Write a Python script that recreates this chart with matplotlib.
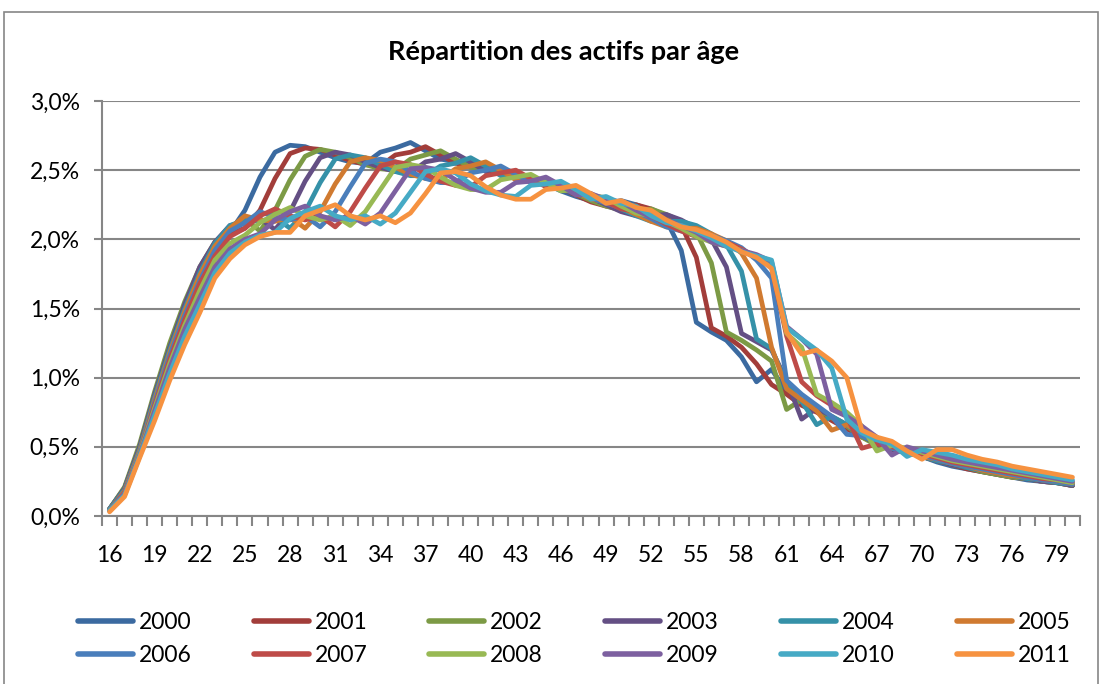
import matplotlib
matplotlib.use("Agg")
import matplotlib.pyplot as plt
from matplotlib.patches import Rectangle

ages = list(range(16, 81))
years = ["2000", "2001", "2002", "2003", "2004", "2005",
         "2006", "2007", "2008", "2009", "2010", "2011"]

v2000 = [0.05, 0.20, 0.50, 0.88, 1.22, 1.52, 1.77, 1.95, 2.05, 2.21,
         2.45, 2.63, 2.68, 2.67, 2.63, 2.59, 2.56, 2.55, 2.63, 2.66,
         2.70, 2.64, 2.58, 2.56, 2.55, 2.54, 2.50, 2.46, 2.43, 2.40,
         2.35, 2.31, 2.28, 2.26, 2.28, 2.25, 2.21, 2.14, 1.92, 1.40,
         1.33, 1.27, 1.15, 0.97, 1.06, 0.90, 0.82, 0.76, 0.70, 0.64,
         0.58, 0.53, 0.49, 0.46, 0.43, 0.39, 0.36, 0.34, 0.32, 0.30,
         0.28, 0.26, 0.25, 0.24, 0.22]
v2001 = [0.05, 0.20, 0.50, 0.88, 1.22, 1.52, 1.77, 1.96, 2.04, 2.08,
         2.21, 2.44, 2.62, 2.66, 2.65, 2.61, 2.57, 2.54, 2.53, 2.61,
         2.63, 2.67, 2.61, 2.55, 2.53, 2.52, 2.51, 2.47, 2.43, 2.40,
         2.37, 2.32, 2.27, 2.24, 2.22, 2.25, 2.22, 2.17, 2.10, 1.87,
         1.36, 1.30, 1.22, 1.10, 0.95, 0.88, 0.80, 0.75, 0.69, 0.63,
         0.57, 0.53, 0.49, 0.46, 0.43, 0.40, 0.37, 0.34, 0.32, 0.30,
         0.28, 0.27, 0.25, 0.24, 0.22]
v2002 = [0.05, 0.21, 0.52, 0.90, 1.25, 1.55, 1.80, 1.98, 2.08, 2.15,
         2.06, 2.21, 2.43, 2.60, 2.65, 2.63, 2.59, 2.54, 2.51, 2.50,
         2.58, 2.61, 2.64, 2.58, 2.52, 2.51, 2.49, 2.48, 2.43, 2.39,
         2.37, 2.33, 2.28, 2.24, 2.21, 2.20, 2.22, 2.18, 2.13, 2.05,
         1.83, 1.33, 1.27, 1.20, 1.12, 0.77, 0.84, 0.77, 0.71, 0.65,
         0.57, 0.51, 0.48, 0.46, 0.43, 0.40, 0.37, 0.35, 0.32, 0.30,
         0.28, 0.27, 0.25, 0.24, 0.22]
v2003 = [0.05, 0.20, 0.50, 0.88, 1.22, 1.53, 1.80, 1.98, 2.10, 2.12,
         2.15, 2.07, 2.20, 2.42, 2.59, 2.63, 2.61, 2.56, 2.52, 2.49,
         2.48, 2.56, 2.58, 2.62, 2.56, 2.49, 2.48, 2.46, 2.45, 2.40,
         2.36, 2.33, 2.30, 2.25, 2.20, 2.17, 2.17, 2.18, 2.14, 2.08,
         2.00, 1.80, 1.32, 1.26, 1.20, 0.98, 0.70, 0.78, 0.72, 0.66,
         0.58, 0.52, 0.48, 0.46, 0.43, 0.40, 0.37, 0.35, 0.33, 0.31,
         0.29, 0.27, 0.25, 0.24, 0.22]
v2004 = [0.05, 0.19, 0.48, 0.86, 1.20, 1.50, 1.76, 1.97, 2.10, 2.14,
         2.13, 2.16, 2.08, 2.20, 2.41, 2.58, 2.61, 2.59, 2.54, 2.49,
         2.46, 2.46, 2.53, 2.55, 2.59, 2.53, 2.46, 2.46, 2.43, 2.42,
         2.37, 2.33, 2.30, 2.27, 2.22, 2.17, 2.13, 2.13, 2.13, 2.10,
         2.04, 1.96, 1.77, 1.28, 1.21, 0.95, 0.83, 0.66, 0.72, 0.66,
         0.58, 0.53, 0.49, 0.46, 0.43, 0.40, 0.38, 0.35, 0.33, 0.31,
         0.29, 0.27, 0.26, 0.24, 0.23]
v2005 = [0.04, 0.18, 0.47, 0.84, 1.18, 1.48, 1.74, 1.95, 2.08, 2.17,
         2.14, 2.13, 2.16, 2.08, 2.20, 2.40, 2.56, 2.59, 2.57, 2.52,
         2.47, 2.44, 2.43, 2.51, 2.53, 2.56, 2.50, 2.43, 2.43, 2.40,
         2.39, 2.34, 2.29, 2.27, 2.23, 2.18, 2.13, 2.09, 2.08, 2.08,
         2.04, 1.99, 1.90, 1.72, 1.22, 0.92, 0.84, 0.76, 0.62, 0.66,
         0.59, 0.53, 0.49, 0.46, 0.43, 0.41, 0.38, 0.36, 0.33, 0.31,
         0.29, 0.28, 0.26, 0.25, 0.23]
v2006 = [0.04, 0.17, 0.46, 0.82, 1.16, 1.45, 1.70, 1.92, 2.06, 2.12,
         2.20, 2.16, 2.14, 2.17, 2.09, 2.20, 2.38, 2.55, 2.58, 2.56,
         2.49, 2.44, 2.41, 2.41, 2.48, 2.50, 2.53, 2.47, 2.41, 2.41,
         2.38, 2.36, 2.30, 2.26, 2.23, 2.20, 2.15, 2.09, 2.06, 2.04,
         2.03, 1.99, 1.94, 1.85, 1.72, 0.98, 0.88, 0.80, 0.72, 0.59,
         0.58, 0.53, 0.49, 0.46, 0.44, 0.41, 0.38, 0.36, 0.34, 0.32,
         0.30, 0.28, 0.26, 0.25, 0.23]
v2007 = [0.04, 0.17, 0.45, 0.80, 1.13, 1.42, 1.68, 1.88, 2.02, 2.08,
         2.17, 2.22, 2.17, 2.14, 2.17, 2.09, 2.20, 2.37, 2.53, 2.56,
         2.54, 2.47, 2.42, 2.39, 2.38, 2.46, 2.48, 2.50, 2.44, 2.38,
         2.38, 2.35, 2.33, 2.27, 2.22, 2.20, 2.17, 2.11, 2.06, 2.02,
         2.00, 1.98, 1.93, 1.87, 1.80, 1.30, 0.97, 0.87, 0.80, 0.72,
         0.49, 0.52, 0.50, 0.47, 0.45, 0.42, 0.39, 0.37, 0.35, 0.33,
         0.31, 0.29, 0.27, 0.26, 0.24]
v2008 = [0.04, 0.16, 0.45, 0.78, 1.10, 1.38, 1.63, 1.85, 1.97, 2.03,
         2.12, 2.18, 2.23, 2.17, 2.14, 2.17, 2.10, 2.20, 2.36, 2.52,
         2.54, 2.52, 2.45, 2.39, 2.36, 2.36, 2.43, 2.45, 2.47, 2.41,
         2.35, 2.36, 2.32, 2.30, 2.24, 2.19, 2.17, 2.13, 2.08, 2.02,
         1.98, 1.95, 1.92, 1.87, 1.82, 1.32, 1.22, 0.88, 0.82, 0.75,
         0.65, 0.47, 0.51, 0.49, 0.46, 0.43, 0.40, 0.38, 0.36, 0.34,
         0.32, 0.30, 0.28, 0.26, 0.24]
v2009 = [0.04, 0.16, 0.44, 0.76, 1.07, 1.35, 1.58, 1.80, 1.93, 2.00,
         2.04, 2.14, 2.20, 2.24, 2.17, 2.14, 2.17, 2.11, 2.19, 2.35,
         2.51, 2.52, 2.50, 2.43, 2.37, 2.34, 2.34, 2.41, 2.42, 2.45,
         2.39, 2.32, 2.33, 2.29, 2.27, 2.21, 2.16, 2.14, 2.10, 2.05,
         1.98, 1.95, 1.92, 1.89, 1.84, 1.37, 1.28, 1.17, 0.77, 0.72,
         0.65, 0.57, 0.44, 0.50, 0.47, 0.44, 0.41, 0.39, 0.37, 0.35,
         0.33, 0.31, 0.29, 0.27, 0.25]
v2010 = [0.04, 0.15, 0.43, 0.73, 1.03, 1.30, 1.53, 1.76, 1.90, 1.98,
         2.03, 2.05, 2.15, 2.20, 2.24, 2.17, 2.14, 2.17, 2.11, 2.19,
         2.34, 2.49, 2.51, 2.48, 2.40, 2.35, 2.32, 2.31, 2.39, 2.40,
         2.42, 2.36, 2.29, 2.31, 2.26, 2.24, 2.17, 2.12, 2.10, 2.06,
         2.01, 1.95, 1.91, 1.88, 1.85, 1.36, 1.28, 1.20, 1.07, 0.70,
         0.60, 0.55, 0.52, 0.43, 0.48, 0.46, 0.44, 0.41, 0.39, 0.37,
         0.34, 0.32, 0.30, 0.28, 0.26]
v2011 = [0.03, 0.14, 0.42, 0.69, 0.98, 1.24, 1.47, 1.72, 1.86, 1.96,
         2.02, 2.05, 2.05, 2.17, 2.21, 2.25, 2.17, 2.14, 2.17, 2.12,
         2.19, 2.33, 2.48, 2.49, 2.46, 2.38, 2.32, 2.29, 2.29, 2.36,
         2.37, 2.39, 2.33, 2.26, 2.28, 2.23, 2.21, 2.14, 2.09, 2.07,
         2.03, 1.98, 1.91, 1.87, 1.79, 1.33, 1.17, 1.20, 1.12, 1.00,
         0.62, 0.57, 0.54, 0.47, 0.41, 0.48, 0.48, 0.44, 0.41, 0.39,
         0.36, 0.34, 0.32, 0.30, 0.28]

series = [v2000, v2001, v2002, v2003, v2004, v2005,
          v2006, v2007, v2008, v2009, v2010, v2011]
colors = ["#3B6AA0", "#A23D3A", "#7C9A45", "#644F84", "#3591A8", "#D07A30",
          "#4A7EBB", "#BE4B48", "#98B954", "#7D60A0", "#46AAC5", "#F69240"]

y_ticks = [0.0, 0.5, 1.0, 1.5, 2.0, 2.5, 3.0]
y_labels = ["0,0%", "0,5%", "1,0%", "1,5%", "2,0%", "2,5%", "3,0%"]
x_label_ages = list(range(16, 80, 3))

title = "Répartition des actifs par âge"

FONT = "Lato"
FS = 16.5
W, H = 1102, 684
fig = plt.figure(figsize=(W / 100, H / 100), dpi=100)
fig.patch.set_facecolor("white")

# chart border
fig.patches.append(Rectangle((4 / W, -0.01), (1098 - 4) / W, 1 - 12 / H + 0.01,
                             transform=fig.transFigure, fill=False,
                             edgecolor="#868686", linewidth=1.2))

ax = fig.add_axes([102 / W, 1 - 516 / H, (1080 - 102) / W, (516 - 101) / H])
grid_c = "#868686"

handles = []
for vals, col, yr in zip(series, colors, years):
    ln, = ax.plot(ages, vals, color=col, linewidth=3.4, label=yr,
                  solid_joinstyle="round", solid_capstyle="round")
    handles.append(ln)

ax.set_xlim(15.5, 80.5)
ax.set_ylim(0, 3.0)

ax.set_yticks(y_ticks)
ax.set_yticklabels(y_labels, fontfamily=FONT, fontsize=FS)
ax.yaxis.grid(True, color=grid_c, linewidth=1.5)
ax.set_axisbelow(True)
ax.tick_params(axis="y", length=6, width=1.5, color=grid_c, pad=10)

bounds = [a - 0.5 for a in ages] + [ages[-1] + 0.5]
ax.set_xticks(bounds)
ax.set_xticklabels([])
ax.tick_params(axis="x", which="major", length=7, width=1.5, color=grid_c)
ax.set_xticks(x_label_ages, minor=True)
ax.set_xticklabels([str(a) for a in x_label_ages], minor=True,
                   fontfamily=FONT, fontsize=FS)
ax.tick_params(axis="x", which="minor", length=0, pad=21)

for s in ["top", "right"]:
    ax.spines[s].set_visible(False)
for s in ["left", "bottom"]:
    ax.spines[s].set_color(grid_c)
    ax.spines[s].set_linewidth(1.5)

fig.text(0.511, 1 - 52 / H, title, ha="center", va="center",
         fontfamily=FONT, fontweight="bold", fontsize=19.5)

order = [0, 6, 1, 7, 2, 8, 3, 9, 4, 10, 5, 11]
leg = fig.legend([handles[i] for i in order], [years[i] for i in order],
                 loc="center", bbox_to_anchor=(0.521, 1 - 639 / H), ncol=6,
                 frameon=False, prop={"family": FONT, "size": FS},
                 handlelength=2.4, handletextpad=0.25, columnspacing=2.72,
                 labelspacing=0.55)
for l in leg.get_lines():
    l.set_linewidth(4)

fig.savefig("out.png", dpi=100, facecolor="white")
